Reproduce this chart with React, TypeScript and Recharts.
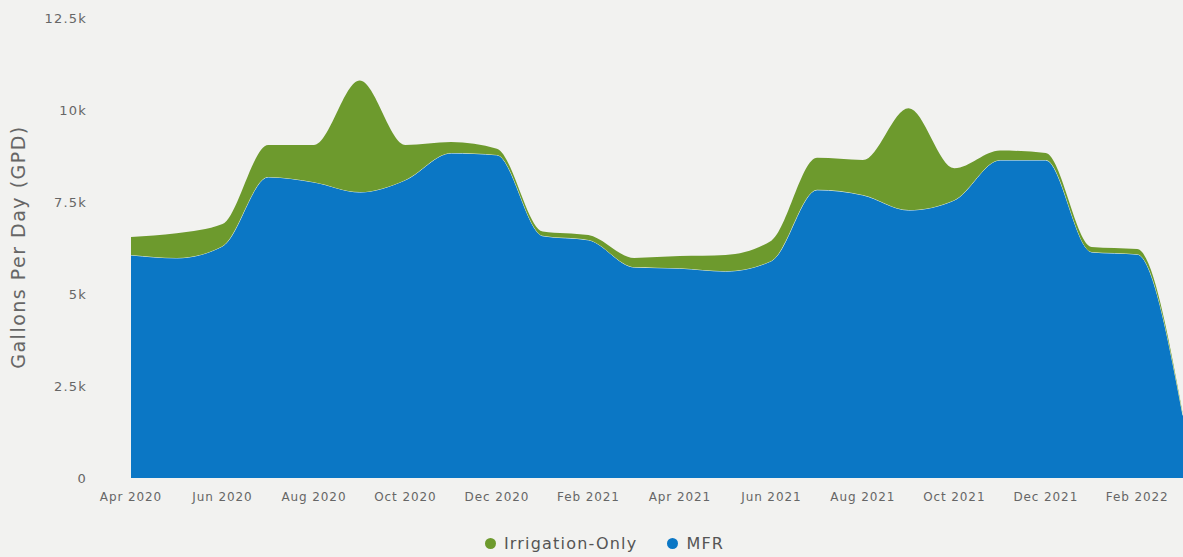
import { AreaChart, Area, XAxis, YAxis, Legend, Label } from 'recharts'

const months = [
  'Apr 2020', 'May 2020', 'Jun 2020', 'Jul 2020', 'Aug 2020', 'Sep 2020',
  'Oct 2020', 'Nov 2020', 'Dec 2020', 'Jan 2021', 'Feb 2021', 'Mar 2021',
  'Apr 2021', 'May 2021', 'Jun 2021', 'Jul 2021', 'Aug 2021', 'Sep 2021',
  'Oct 2021', 'Nov 2021', 'Dec 2021', 'Jan 2022', 'Feb 2022', 'Mar 2022',
]

const mfr = [
  6060, 5980, 6300, 8180, 8040, 7770, 8100, 8830, 8780, 6580, 6470, 5730,
  5700, 5620, 5900, 7830, 7690, 7280, 7550, 8640, 8640, 6140, 6080, 1700,
]

const irrigationOnly = [
  490, 670, 600, 870, 1010, 3030, 950, 300, 170, 120, 130, 250,
  330, 440, 550, 870, 950, 2770, 870, 260, 190, 140, 140, 0,
]

const yTicks = [0, 2500, 5000, 7500, 10000, 12500]

const data = months.map((month, i) => ({
  month,
  mfr: mfr[i],
  irrigation: irrigationOnly[i],
}))

const BLUE = '#0b77c5'
const GREEN = '#6d9a2d'
const TEXT = '#666'
const FONT = '"DejaVu Sans", sans-serif'

const fmt = (v: number) => (v === 0 ? '0' : `${v / 1000}k`)

function LegendContent() {
  const items = [
    { name: 'Irrigation-Only', color: GREEN },
    { name: 'MFR', color: BLUE },
  ]
  return (
    <div
      style={{
        display: 'flex',
        justifyContent: 'center',
        gap: 30,
        height: 24,
        alignItems: 'center',
        fontFamily: FONT,
        fontSize: 16,
        letterSpacing: 1.2,
        color: '#555',
        paddingLeft: 26,
      }}
    >
      {items.map((it) => (
        <div key={it.name} style={{ display: 'flex', alignItems: 'center' }}>
          <span
            style={{
              width: 11,
              height: 11,
              borderRadius: '50%',
              background: it.color,
              marginRight: 8,
            }}
          />
          {it.name}
        </div>
      ))}
    </div>
  )
}

export default function App() {
  return (
    <div
      style={{
        position: 'fixed',
        left: 0,
        top: 0,
        width: 1183,
        height: 557,
        background: '#f2f2f0',
        fontFamily: FONT,
      }}
    >
      <AreaChart
        width={1183}
        height={557}
        data={data}
        margin={{ top: 18, right: 0, left: 0, bottom: 25 }}
      >
        <XAxis
          dataKey="month"
          interval={1}
          axisLine={false}
          tickLine={false}
          tickMargin={8}
          height={30}
          tick={{ fill: TEXT, fontSize: 12, letterSpacing: 0.9 }}
        />
        <YAxis
          width={131}
          domain={[0, 12500]}
          ticks={yTicks}
          tickFormatter={fmt}
          axisLine={false}
          tickLine={false}
          tickMargin={38}
          tick={{ fill: TEXT, fontSize: 13, letterSpacing: 1.2 }}
        >
          <Label
            content={() => (
              <text
                x={18}
                y={247}
                transform="rotate(-90 18 247)"
                textAnchor="middle"
                dominantBaseline="central"
                fill={TEXT}
                fontSize={19}
                letterSpacing={1.5}
              >
                Gallons Per Day (GPD)
              </text>
            )}
          />
        </YAxis>
        <Legend verticalAlign="bottom" wrapperStyle={{ bottom: 2 }} content={<LegendContent />} />
        <Area
          type="monotone"
          dataKey="mfr"
          name="MFR"
          stackId="a"
          fill={BLUE}
          fillOpacity={1}
          stroke="#e8f0e0"
          strokeWidth={1}
          isAnimationActive={false}
        />
        <Area
          type="monotone"
          dataKey="irrigation"
          name="Irrigation-Only"
          stackId="a"
          fill={GREEN}
          fillOpacity={1}
          stroke="none"
          isAnimationActive={false}
        />
      </AreaChart>
    </div>
  )
}
